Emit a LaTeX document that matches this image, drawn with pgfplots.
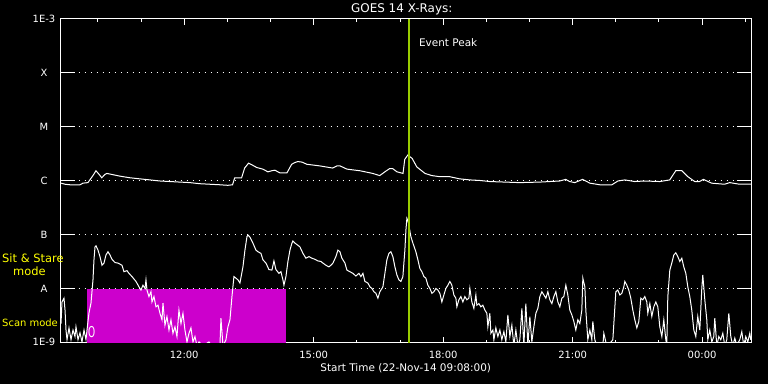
\documentclass[border=0pt]{standalone}
\usepackage{fontspec}
\setmainfont{DejaVu Sans}
\usepackage{graphicx}
\usepackage{pgfplots}
\pgfplotsset{compat=1.18}
\definecolor{scanmag}{RGB}{204,0,204}
\definecolor{peakgreen}{RGB}{153,204,0}
\definecolor{modeyellow}{RGB}{255,255,0}
\begin{document}
\begin{tikzpicture}
\fill[black] (0,0) rectangle (768bp,384bp);
\useasboundingbox (0,0) rectangle (768bp,384bp);
\begin{axis}[
 at={(60.5bp,41bp)}, anchor=south west,
 scale only axis, width=690.5bp, height=324bp,
 xmin=9.1333, xmax=25.1333, ymin=-9, ymax=-3,
 axis line style={white, line width=1bp},
 xtick={12,15,18,21,24}, xticklabels={12:00,15:00,18:00,21:00,00:00},
 minor xtick={10,11,13,14,16,17,19,20,22,23,25},
 ytick={-9,-8,-7,-6,-5,-4,-3},
 yticklabels={\raisebox{3bp}{1E-9},A,B,C,M,X,\raisebox{-3bp}{1E-3}},
 xtick style={white, line width=1bp, /pgfplots/major tick length=6bp, /pgfplots/minor tick length=3bp},
 ytick style={white, line width=1bp, /pgfplots/major tick length=14bp},
 tick align=inside,
 ymajorgrids,
 major grid style={white, line width=1bp, dash pattern=on 1bp off 5bp},
 tick label style={text=white, font=\fontsize{10}{12}\selectfont},
 xticklabel style={anchor=center, yshift=-12.3bp},
 yticklabel style={anchor=center, xshift=-16.5bp},
 title={GOES 14 X-Rays:},
 title style={text=white, font=\fontsize{12}{14}\selectfont, at={(0.5,1)}, anchor=center, yshift=3.5bp, xshift=-4bp},
 xlabel={Start Time (22-Nov-14 09:08:00)},
 xlabel style={text=white, font=\fontsize{10.5}{12}\selectfont, at={(0.5,0)}, anchor=center, yshift=-25bp},
]
% scan mode interval
\addplot[draw=none, fill=scanmag] coordinates {(9.740,-9) (9.740,-8) (14.350,-8) (14.350,-9)} -- cycle;
% long channel (1-8 A)
\addplot[white, line width=1bp, mark=none] coordinates {
(9.145,-6.04) (9.24,-6.06) (9.353,-6.07) (9.585,-6.07) (9.654,-6.04) (9.77,-6.03) (9.84,-5.95) (9.885,-5.90) (9.955,-5.81) (10.02,-5.87) (10.09,-5.94) (10.16,-5.88) (10.21,-5.86) (10.33,-5.88) (10.51,-5.91) (10.74,-5.94) (10.97,-5.96) (11.21,-5.98) (11.44,-6.00) (11.67,-6.01) (11.90,-6.02) (12.13,-6.03) (12.36,-6.05) (12.59,-6.06) (12.83,-6.07) (13.01,-6.08) (13.12,-6.07) (13.17,-5.94) (13.33,-5.94) (13.40,-5.76) (13.49,-5.67) (13.59,-5.71) (13.68,-5.75) (13.82,-5.78) (13.94,-5.83) (14.03,-5.81) (14.10,-5.80) (14.22,-5.85) (14.38,-5.85) (14.49,-5.69) (14.56,-5.66) (14.63,-5.64) (14.73,-5.65) (14.84,-5.69) (15.14,-5.72) (15.44,-5.76) (15.54,-5.72) (15.61,-5.72) (15.77,-5.78) (16.07,-5.81) (16.37,-5.86) (16.53,-5.90) (16.65,-5.83) (16.76,-5.77) (16.83,-5.77) (16.93,-5.83) (17.07,-5.86) (17.11,-5.60) (17.18,-5.52) (17.28,-5.58) (17.39,-5.74) (17.58,-5.86) (17.74,-5.90) (17.92,-5.92) (18.15,-5.92) (18.38,-5.96) (18.62,-5.98) (18.85,-5.99) (19.08,-6.01) (19.43,-6.02) (19.77,-6.03) (20.24,-6.02) (20.70,-6.00) (20.84,-5.97) (20.93,-6.01) (21.05,-6.03) (21.23,-5.97) (21.40,-6.04) (21.63,-6.07) (21.91,-6.07) (22.05,-6.00) (22.21,-5.98) (22.44,-6.01) (22.67,-6.00) (23.02,-6.01) (23.25,-5.98) (23.39,-5.81) (23.53,-5.81) (23.67,-5.92) (23.83,-6.01) (23.94,-6.01) (24.03,-5.97) (24.22,-6.04) (24.52,-6.06) (24.64,-6.03) (24.87,-6.06) (25.13,-6.06)
};
% short channel (0.5-4 A)
\addplot[white, line width=1bp, mark=none] coordinates {
(9.145,-8.64) (9.168,-8.24) (9.214,-8.17) (9.238,-8.39) (9.261,-8.76) (9.284,-8.94) (9.330,-8.72) (9.377,-8.94) (9.423,-8.76) (9.469,-8.88) (9.492,-8.70) (9.539,-8.94) (9.585,-8.81) (9.631,-8.98) (9.678,-8.76) (9.724,-8.94) (9.747,-8.76) (9.794,-8.44) (9.840,-8.26) (9.886,-7.83) (9.909,-7.46) (9.933,-7.22) (9.956,-7.20) (10.002,-7.28) (10.048,-7.40) (10.095,-7.56) (10.141,-7.52) (10.187,-7.37) (10.234,-7.31) (10.280,-7.37) (10.326,-7.45) (10.396,-7.51) (10.465,-7.52) (10.558,-7.56) (10.604,-7.68) (10.674,-7.66) (10.720,-7.71) (10.790,-7.77) (10.882,-7.86) (10.952,-7.96) (10.998,-8.02) (11.044,-7.93) (11.091,-7.99) (11.114,-7.83) (11.137,-8.02) (11.183,-8.14) (11.230,-8.05) (11.253,-8.24) (11.299,-8.14) (11.346,-8.33) (11.392,-8.30) (11.438,-8.45) (11.485,-8.57) (11.508,-8.26) (11.554,-8.67) (11.600,-8.51) (11.647,-8.76) (11.693,-8.57) (11.739,-8.82) (11.786,-8.70) (11.832,-8.88) (11.878,-8.39) (11.925,-8.64) (11.971,-8.45) (12.017,-8.76) (12.064,-8.98) (12.110,-8.82) (12.156,-8.72) (12.203,-8.98) (12.249,-8.88) (12.295,-9.05) (12.342,-8.98) (12.434,-9.05) (12.573,-8.98) (12.643,-9.05) (12.828,-9.05) (12.851,-8.54) (12.898,-9.05) (12.967,-8.94) (13.013,-8.70) (13.060,-8.57) (13.106,-8.14) (13.152,-7.77) (13.199,-7.80) (13.245,-7.83) (13.291,-7.89) (13.361,-7.59) (13.407,-7.28) (13.454,-7.03) (13.477,-7.00) (13.523,-7.04) (13.592,-7.15) (13.662,-7.28) (13.708,-7.31) (13.778,-7.34) (13.824,-7.46) (13.894,-7.52) (13.963,-7.64) (14.033,-7.65) (14.079,-7.48) (14.125,-7.64) (14.195,-7.71) (14.241,-7.68) (14.287,-7.83) (14.311,-7.93) (14.357,-7.77) (14.403,-7.49) (14.450,-7.28) (14.496,-7.15) (14.519,-7.11) (14.565,-7.15) (14.635,-7.19) (14.681,-7.22) (14.751,-7.34) (14.820,-7.43) (14.890,-7.40) (14.959,-7.43) (15.029,-7.45) (15.098,-7.48) (15.168,-7.49) (15.214,-7.52) (15.283,-7.56) (15.353,-7.59) (15.399,-7.56) (15.446,-7.52) (15.515,-7.40) (15.561,-7.28) (15.608,-7.31) (15.654,-7.43) (15.724,-7.52) (15.770,-7.65) (15.839,-7.68) (15.909,-7.71) (15.978,-7.76) (16.048,-7.71) (16.094,-7.77) (16.141,-7.71) (16.187,-7.86) (16.256,-7.89) (16.303,-7.96) (16.349,-7.99) (16.395,-8.05) (16.442,-8.08) (16.488,-8.17) (16.534,-8.05) (16.604,-7.96) (16.650,-7.71) (16.696,-7.46) (16.743,-7.34) (16.789,-7.31) (16.835,-7.40) (16.882,-7.59) (16.928,-7.74) (16.974,-7.83) (17.021,-7.86) (17.067,-7.77) (17.090,-7.52) (17.113,-7.28) (17.137,-6.91) (17.160,-6.69) (17.190,-6.75) (17.252,-7.03) (17.299,-7.15) (17.368,-7.31) (17.415,-7.46) (17.461,-7.62) (17.507,-7.68) (17.554,-7.77) (17.600,-7.80) (17.646,-7.93) (17.693,-7.99) (17.739,-8.08) (17.785,-8.05) (17.832,-7.99) (17.878,-8.02) (17.924,-8.08) (17.970,-8.24) (18.017,-8.11) (18.063,-7.99) (18.109,-7.93) (18.156,-7.86) (18.202,-7.93) (18.248,-8.11) (18.295,-8.17) (18.318,-8.33) (18.364,-8.20) (18.411,-8.14) (18.457,-8.24) (18.503,-8.14) (18.550,-8.20) (18.596,-8.17) (18.619,-7.99) (18.665,-8.24) (18.712,-8.36) (18.758,-8.11) (18.781,-8.30) (18.828,-8.27) (18.874,-8.33) (18.920,-8.30) (18.967,-8.39) (19.013,-8.45) (19.036,-8.70) (19.082,-8.45) (19.106,-8.82) (19.152,-8.76) (19.175,-8.94) (19.221,-8.72) (19.268,-8.88) (19.314,-8.76) (19.360,-8.94) (19.407,-8.79) (19.453,-8.98) (19.499,-8.48) (19.546,-8.88) (19.592,-8.67) (19.638,-9.05) (19.685,-8.76) (19.731,-9.05) (19.777,-8.94) (19.824,-8.36) (19.870,-9.05) (19.916,-8.27) (19.963,-9.05) (20.009,-8.51) (20.055,-8.98) (20.102,-8.70) (20.148,-8.45) (20.194,-8.36) (20.241,-8.14) (20.287,-8.05) (20.333,-8.11) (20.380,-8.17) (20.426,-8.05) (20.472,-8.20) (20.519,-8.27) (20.565,-8.14) (20.611,-8.05) (20.658,-8.24) (20.704,-8.33) (20.750,-8.17) (20.796,-8.14) (20.843,-7.93) (20.889,-8.11) (20.935,-8.39) (20.982,-8.48) (21.028,-8.60) (21.074,-8.76) (21.121,-8.57) (21.167,-8.64) (21.213,-8.39) (21.237,-7.80) (21.283,-7.96) (21.306,-8.39) (21.352,-8.94) (21.399,-8.76) (21.445,-8.94) (21.468,-8.60) (21.515,-8.94) (21.561,-9.05) (21.700,-9.05) (21.723,-8.82) (21.769,-8.98) (21.816,-9.05) (21.932,-8.94) (21.955,-8.64) (22.001,-8.05) (22.047,-8.02) (22.094,-8.11) (22.140,-8.08) (22.186,-7.96) (22.210,-7.86) (22.256,-7.93) (22.302,-8.02) (22.348,-8.17) (22.395,-8.39) (22.441,-8.57) (22.487,-8.72) (22.534,-8.60) (22.557,-8.39) (22.580,-8.17) (22.626,-8.20) (22.673,-8.14) (22.719,-8.24) (22.742,-8.45) (22.789,-8.27) (22.835,-8.51) (22.881,-8.33) (22.928,-8.24) (22.974,-8.33) (23.020,-8.70) (23.067,-8.88) (23.113,-8.57) (23.159,-8.94) (23.182,-9.05) (23.206,-8.14) (23.252,-7.65) (23.298,-7.52) (23.345,-7.37) (23.391,-7.33) (23.437,-7.40) (23.484,-7.49) (23.530,-7.43) (23.576,-7.59) (23.623,-7.71) (23.669,-7.96) (23.715,-8.14) (23.761,-8.39) (23.808,-8.76) (23.854,-8.88) (23.900,-8.51) (23.947,-8.76) (23.993,-7.99) (24.016,-7.74) (24.063,-8.20) (24.109,-8.57) (24.132,-8.94) (24.178,-8.76) (24.225,-8.98) (24.271,-8.88) (24.294,-8.54) (24.341,-9.05) (24.387,-8.88) (24.433,-8.94) (24.480,-8.82) (24.526,-9.05) (24.572,-8.94) (24.619,-8.45) (24.665,-8.88) (24.711,-9.05) (24.758,-8.91) (24.804,-9.05) (24.873,-8.94) (24.920,-8.79) (24.966,-9.05) (25.012,-8.88) (25.059,-8.98) (25.105,-8.82) (25.128,-8.94)
};
% event peak marker
\addplot[peakgreen, line width=2.3bp, mark=none] coordinates {(17.201,-9) (17.201,-3)};
\node[text=white, anchor=west, inner sep=0pt, font=\fontsize{10.5}{12}\selectfont] at (axis cs:17.438,-3.444) {Event Peak};
\node[text=white, inner sep=0pt, font=\fontsize{15}{15}\selectfont] at (axis cs:9.855,-8.80) {\scalebox{0.6}[1]{O}};
\end{axis}
\node[text=modeyellow, anchor=west, inner sep=0pt, font=\fontsize{11.5}{13}\selectfont] at (2bp,125.7bp) {Sit \& Stare};
\node[text=modeyellow, anchor=west, inner sep=0pt, font=\fontsize{11.5}{13}\selectfont] at (13bp,113bp) {mode};
\node[text=modeyellow, anchor=west, inner sep=0pt, font=\fontsize{10}{12}\selectfont] at (2bp,61bp) {Scan mode};
\end{tikzpicture}
\end{document}
